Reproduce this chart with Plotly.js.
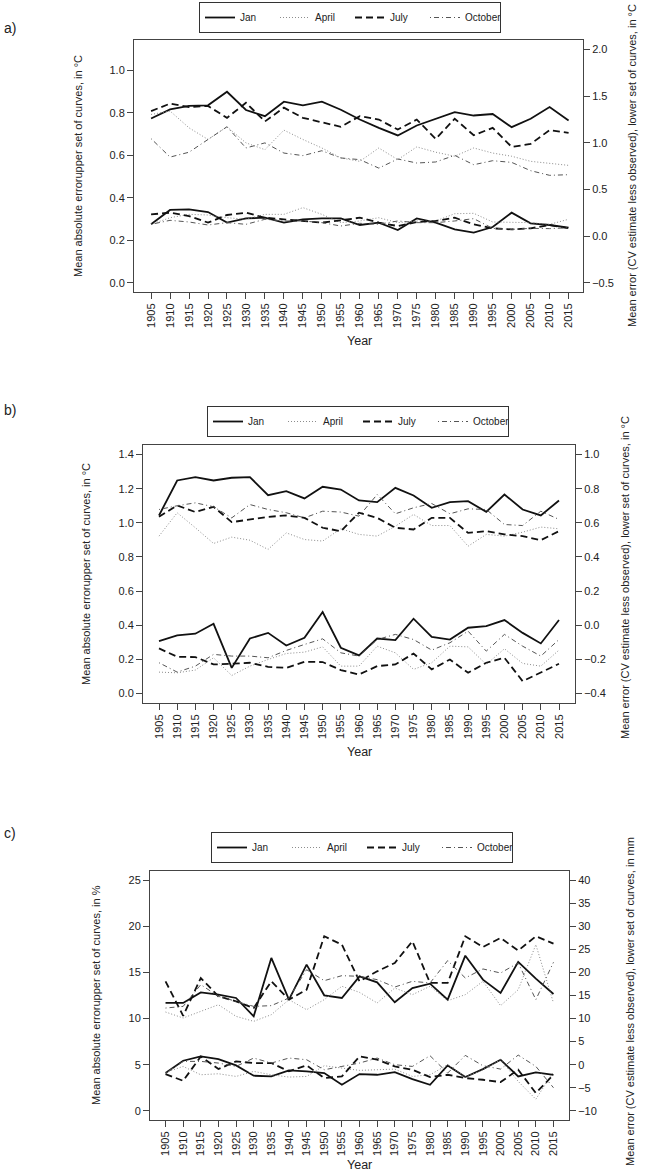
<!DOCTYPE html>
<html><head><meta charset="utf-8">
<script src="https://cdn.plot.ly/plotly-3.0.1.min.js"></script>
<style>html,body{margin:0;padding:0;background:#fff;}#chart{width:649px;height:1173px;}</style>
</head><body><div id="chart"></div>
<script>
const years = [1905,1910,1915,1920,1925,1930,1935,1940,1945,1950,1955,1960,1965,1970,1975,1980,1985,1990,1995,2000,2005,2010,2015];
const yearLabels = years.map(String);
const months = ['Jan','April','July','October'];

// Panel a) upper set: mean absolute error (°C), left axis
const janA_mae = [0.774,0.817,0.833,0.836,0.900,0.814,0.785,0.853,0.836,0.853,0.815,0.769,0.730,0.694,0.741,0.773,0.804,0.788,0.795,0.733,0.773,0.828,0.765];
const aprA_mae = [0.793,0.809,0.730,0.675,0.735,0.659,0.627,0.719,0.675,0.635,0.588,0.572,0.635,0.580,0.640,0.615,0.596,0.635,0.611,0.596,0.572,0.564,0.553];
const julA_mae = [0.809,0.844,0.828,0.833,0.777,0.848,0.760,0.825,0.777,0.757,0.735,0.785,0.769,0.722,0.769,0.678,0.773,0.695,0.730,0.640,0.654,0.719,0.706];
const octA_mae = [0.679,0.592,0.615,0.675,0.735,0.635,0.659,0.611,0.599,0.622,0.588,0.580,0.540,0.583,0.564,0.569,0.600,0.556,0.575,0.567,0.528,0.506,0.509];
// Panel a) lower set: mean error (°C), right axis
const janA_me = [0.125,0.279,0.286,0.257,0.143,0.189,0.196,0.143,0.179,0.189,0.189,0.118,0.143,0.064,0.189,0.143,0.071,0.036,0.096,0.250,0.136,0.118,0.089];
const aprA_me = [0.125,0.196,0.232,0.225,0.196,0.179,0.232,0.232,0.304,0.232,0.143,0.161,0.196,0.143,0.161,0.161,0.239,0.243,0.150,0.150,0.143,0.125,0.179];
const julA_me = [0.232,0.250,0.214,0.143,0.225,0.250,0.196,0.179,0.168,0.143,0.168,0.196,0.143,0.107,0.150,0.161,0.196,0.125,0.082,0.071,0.082,0.118,0.082];
const octA_me = [0.125,0.168,0.150,0.118,0.143,0.125,0.179,0.161,0.161,0.143,0.107,0.136,0.125,0.161,0.143,0.143,0.161,0.186,0.082,0.071,0.082,0.079,0.089];

// Panel b) upper set (°C), left axis
const janB_mae = [1.043,1.248,1.268,1.248,1.264,1.268,1.162,1.186,1.143,1.211,1.195,1.131,1.121,1.205,1.160,1.088,1.121,1.127,1.064,1.166,1.078,1.043,1.131];
const aprB_mae = [0.922,1.059,0.971,0.879,0.916,0.898,0.844,0.941,0.902,0.893,0.965,0.932,0.922,0.980,1.049,0.984,0.984,0.863,0.932,0.922,0.945,0.975,0.965];
const julB_mae = [1.035,1.102,1.063,1.094,1.004,1.020,1.035,1.043,1.029,0.971,0.951,1.059,1.029,0.971,0.961,1.029,1.029,0.941,0.951,0.932,0.922,0.898,0.951];
const octB_mae = [1.078,1.100,1.117,1.094,1.029,1.107,1.078,1.059,1.029,1.068,1.063,1.039,1.166,1.053,1.088,1.113,1.053,1.082,1.078,0.990,0.984,1.068,1.020];
// Panel b) lower set (°C), right axis
const janB_me = [-0.093,-0.060,-0.050,0.008,-0.250,-0.078,-0.045,-0.119,-0.074,0.077,-0.132,-0.177,-0.078,-0.087,0.038,-0.068,-0.084,-0.015,-0.005,0.030,-0.045,-0.107,0.030];
const aprB_me = [-0.275,-0.279,-0.263,-0.191,-0.295,-0.240,-0.201,-0.166,-0.158,-0.127,-0.240,-0.240,-0.123,-0.162,-0.259,-0.220,-0.123,-0.127,-0.230,-0.138,-0.224,-0.240,-0.146];
const julB_me = [-0.136,-0.185,-0.187,-0.230,-0.226,-0.220,-0.244,-0.250,-0.214,-0.216,-0.263,-0.289,-0.240,-0.230,-0.166,-0.259,-0.201,-0.279,-0.220,-0.191,-0.328,-0.279,-0.226];
const octB_me = [-0.220,-0.275,-0.240,-0.171,-0.181,-0.181,-0.191,-0.148,-0.113,-0.080,-0.162,-0.181,-0.084,-0.054,-0.084,-0.146,-0.103,-0.035,-0.152,-0.054,-0.123,-0.181,-0.084];

// Panel c) upper set (%), left axis
const janC_mae = [11.69,11.69,12.84,12.59,12.23,10.24,16.57,12.05,15.85,12.52,12.23,14.58,13.93,11.76,13.31,13.78,12.05,16.82,14.22,12.77,16.14,14.33,12.66];
const aprC_mae = [10.71,10.06,10.78,11.50,10.24,9.70,10.42,12.05,10.96,12.05,13.50,12.84,11.69,13.31,12.59,13.50,11.94,12.59,14.04,11.40,13.13,18.02,11.69];
const julC_mae = [14.04,10.30,14.40,12.41,11.87,11.14,14.04,12.05,13.13,18.92,18.02,14.04,15.12,16.03,18.38,13.86,13.86,18.92,17.76,18.74,17.37,18.92,18.13];
const octC_mae = [11.14,11.32,13.68,12.41,11.87,11.32,11.40,12.23,15.30,14.11,14.65,14.58,14.22,13.42,14.04,13.86,16.28,14.40,15.38,14.94,16.03,12.05,16.10];
// Panel c) lower set (mm), right axis
const janC_me = [-1.82,0.85,1.79,1.22,-0.16,-2.40,-2.55,-1.24,-1.46,-1.82,-4.36,-2.04,-2.19,-1.61,-3.13,-4.36,-0.16,-2.69,-0.96,1.07,-2.55,-1.68,-2.19];
const aprC_me = [-1.68,-0.38,-2.19,-1.97,-2.55,-1.46,-2.19,-2.69,-2.55,-0.23,-0.74,-1.24,-1.10,-0.96,-2.55,-2.19,-0.01,-2.69,-1.10,1.07,-3.63,-7.50,-1.50];
const julC_me = [-2.04,-3.50,1.79,-0.96,0.71,0.35,0.35,-1.46,-0.16,-2.90,-2.55,1.79,1.07,-0.38,-1.10,-2.69,-2.19,-2.91,-3.27,-3.78,-1.10,-6.16,-2.19];
const octC_me = [-1.82,0.71,0.71,0.35,-0.38,1.43,0.35,1.43,1.07,-1.10,-0.38,0.35,1.43,-0.01,-0.38,1.94,-1.82,2.01,-0.23,-0.96,2.08,-0.38,-5.00];

const leftTicksA = [0,0.2,0.4,0.6,0.8,1.0];
const rightTicksA = [-0.5,0,0.5,1.0,1.5,2.0];
const leftTicksB = [0,0.2,0.4,0.6,0.8,1.0,1.2,1.4];
const rightTicksB = [-0.4,-0.2,0,0.2,0.4,0.6,0.8,1.0];
const leftTicksC = [0,5,10,15,20,25];
const rightTicksC = [-10,-5,0,5,10,15,20,25,30,35,40];

const W = 649, H = 1173;
const px = x => x / W, py = y => 1 - y / H;
const FONT = 'Liberation Sans, Arial, Helvetica, sans-serif';
const TXT = '#222';

const styles = {
  Jan:     {color:'#111', width:1.8, dash:'solid'},
  April:   {color:'#8c8c8c', width:1, dash:'1px,2px'},
  July:    {color:'#111', width:1.8, dash:'7px,4px'},
  October: {color:'#555', width:1, dash:'1px,3px,5px,3px'}
};

const panels = [
  {mae:[janA_mae,aprA_mae,julA_mae,octA_mae], me:[janA_me,aprA_me,julA_me,octA_me], x:'x', yl:'y', yr:'y2', legend:'legend'},
  {mae:[janB_mae,aprB_mae,julB_mae,octB_mae], me:[janB_me,aprB_me,julB_me,octB_me], x:'x2', yl:'y3', yr:'y4', legend:'legend2'},
  {mae:[janC_mae,aprC_mae,julC_mae,octC_mae], me:[janC_me,aprC_me,julC_me,octC_me], x:'x3', yl:'y5', yr:'y6', legend:'legend3'}
];

const traces = [];
panels.forEach(p => {
  months.forEach((m, i) => {
    traces.push({type:'scatter', mode:'lines', name:m, x:years, y:p.mae[i], xaxis:p.x, yaxis:p.yl,
      line:styles[m], legend:p.legend, showlegend:true, hoverinfo:'skip'});
  });
  months.forEach((m, i) => {
    traces.push({type:'scatter', mode:'lines', name:m, x:years, y:p.me[i], xaxis:p.x, yaxis:p.yr,
      line:styles[m], legend:p.legend, showlegend:false, hoverinfo:'skip'});
  });
});

const base = {showline:true, linecolor:'#444', linewidth:1, ticks:'outside', ticklen:6, tickwidth:1,
  tickcolor:'#444', showgrid:false, zeroline:false, fixedrange:true,
  tickfont:{family:FONT, size:11, color:TXT}};

function xAxis(l, r, anchor, range) {
  return Object.assign({}, base, {domain:[px(l), px(r)], anchor:anchor, range:range, mirror:true,
    tickmode:'array', tickvals:years, ticktext:yearLabels, tickangle:-90});
}
function yLeft(top, bottom, anchor, range, ticks) {
  return Object.assign({}, base, {domain:[py(bottom), py(top)], anchor:anchor, range:range, mirror:true,
    tickmode:'array', tickvals:ticks, tickformat:'.1f'});
}
function yRight(over, anchor, range, ticks, fmt) {
  return Object.assign({}, base, {overlaying:over, side:'right', anchor:anchor, range:range,
    tickmode:'array', tickvals:ticks, tickformat:fmt});
}

function legendAt(l, t) {
  return {x:px(l), y:py(t), xanchor:'left', yanchor:'top', orientation:'h', bgcolor:'#fff',
    bordercolor:'#333', borderwidth:1, font:{family:FONT, size:10, color:TXT},
    itemwidth:30, entrywidth:30, entrywidthmode:'pixels', traceorder:'normal',
    itemclick:false, itemdoubleclick:false};
}

function ann(text, x, y, opts) {
  return Object.assign({text:text, x:px(x), y:py(y), xref:'paper', yref:'paper', showarrow:false,
    xanchor:'center', yanchor:'middle', font:{family:FONT, size:11, color:TXT}}, opts || {});
}

const leftTitleT = 'Mean absolute errorupper set of curves, in °C';
const leftTitleP = 'Mean absolute errorupper set of curves, in %';
const rightTitleT = 'Mean error (CV estimate less observed), lower set of curves, in °C';
const rightTitleM = 'Mean error (CV estimate less observed), lower set of curves, in mm';

const layout = {
  width:W, height:H, margin:{l:0, r:0, t:0, b:0}, paper_bgcolor:'#fff', plot_bgcolor:'#fff',
  showlegend:true, hovermode:false,
  xaxis:  xAxis(134, 583, 'y', [1900.5, 2018.8]),
  yaxis:  yLeft(40, 292, 'x', [-0.044, 1.144], leftTicksA),
  yaxis2: yRight('y', 'x', [-0.6, 2.1], rightTicksA, '.1f'),
  xaxis2: xAxis(143, 575, 'y3', [1900.6, 2019.4]),
  yaxis3: yLeft(445, 703, 'x2', [-0.056, 1.456], leftTicksB),
  yaxis4: yRight('y3', 'x2', [-0.456, 1.056], rightTicksB, '.1f'),
  xaxis3: xAxis(150, 569, 'y5', [1900.6, 2019.4]),
  yaxis5: Object.assign(yLeft(871, 1120, 'x3', [-1, 26], leftTicksC), {tickformat:'d'}),
  yaxis6: yRight('y5', 'x3', [-12, 42], rightTicksC, 'd'),
  legend:  legendAt(199, 2),
  legend2: legendAt(207, 406),
  legend3: legendAt(211, 832),
  annotations: [
    ann('a)', 2, 28, {xanchor:'left', font:{family:FONT, size:14, color:TXT}}),
    ann('b)', 2, 410, {xanchor:'left', font:{family:FONT, size:14, color:TXT}}),
    ann('c)', 2, 833, {xanchor:'left', font:{family:FONT, size:14, color:TXT}}),
    ann(leftTitleT, 78, 166, {textangle:-90}),
    ann(leftTitleT, 86, 574, {textangle:-90}),
    ann(leftTitleP, 96, 995, {textangle:-90}),
    ann(rightTitleT, 632, 166, {textangle:-90}),
    ann(rightTitleT, 625, 578, {textangle:-90}),
    ann(rightTitleM, 630, 1002, {textangle:-90}),
    ann('Year', 360, 341, {font:{family:FONT, size:12.5, color:TXT}}),
    ann('Year', 360, 752, {font:{family:FONT, size:12.5, color:TXT}}),
    ann('Year', 360, 1165, {font:{family:FONT, size:12.5, color:TXT}})
  ]
};

Plotly.newPlot('chart', traces, layout, {staticPlot:true, displayModeBar:false});
</script>
</body></html>
